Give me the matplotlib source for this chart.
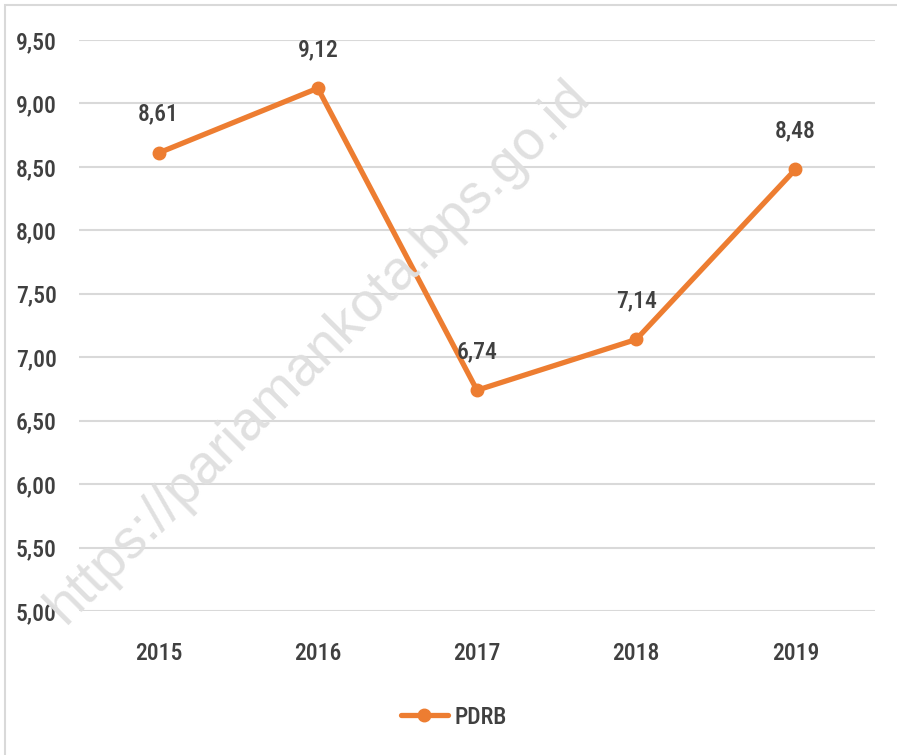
import matplotlib
matplotlib.use("Agg")
import matplotlib.pyplot as plt
from matplotlib.patches import Rectangle

years = ["2015", "2016", "2017", "2018", "2019"]
pdrb = [8.61, 9.12, 6.74, 7.14, 8.48]
y_ticks = [5.0, 5.5, 6.0, 6.5, 7.0, 7.5, 8.0, 8.5, 9.0, 9.5]
series_name = "PDRB"
watermark = "https://pariamankota.bps.go.id"

plt.rcParams["font.family"] = ["Roboto Condensed", "DejaVu Sans"]
plt.rcParams["font.weight"] = "medium"

TEXT = "#404040"
ORANGE = "#ED7D31"
GRID = "#d9d9d9"
FS = 17

W, H = 897, 755
fig = plt.figure(figsize=(W / 100, H / 100), dpi=100)

# outer frame
fig.patches.append(Rectangle((5 / W, -0.01), 1.0, 1 - 5 / H + 0.01, transform=fig.transFigure,
                             fill=False, edgecolor="#d9d9d9", linewidth=1.5))

ax = fig.add_axes([79 / W, 1 - 611 / H, (875 - 79) / W, (611 - 40) / H])
x = list(range(len(years)))
ax.set_xlim(-0.5, len(years) - 0.5)
ax.set_ylim(5.0, 9.5)
ax.set_yticks(y_ticks)
ax.set_yticklabels([f"{v:.2f}".replace(".", ",") for v in y_ticks])
ax.set_xticks(x)
ax.set_xticklabels(years)
ax.tick_params(length=0, labelsize=FS, colors=TEXT)
ax.tick_params(axis="y", pad=16)
ax.tick_params(axis="x", pad=22)
for s in ax.spines.values():
    s.set_visible(False)
ax.grid(axis="y", color=GRID, linewidth=1.5)
ax.set_axisbelow(True)

ax.plot(x, pdrb, color=ORANGE, linewidth=3.8, marker="o", markersize=9,
        solid_capstyle="round", label=series_name, zorder=3)
for xi, v in zip(x, pdrb):
    ax.annotate(f"{v:.2f}".replace(".", ","), (xi, v), xytext=(0, 28),
                textcoords="offset points", ha="center", va="center",
                fontsize=FS, color=TEXT, zorder=4)

leg = fig.legend(loc="center", bbox_to_anchor=(454 / W, 1 - 717 / H), frameon=False,
                 fontsize=FS, handlelength=2.0, handletextpad=0.3)
for t in leg.get_texts():
    t.set_color(TEXT)

fig.text(318 / W, 1 - 352 / H, watermark, rotation=45, ha="center", va="center",
         fontsize=40, color="#e0e0e0", family="Liberation Sans", zorder=0.5)

fig.savefig("out.png", dpi=100)
